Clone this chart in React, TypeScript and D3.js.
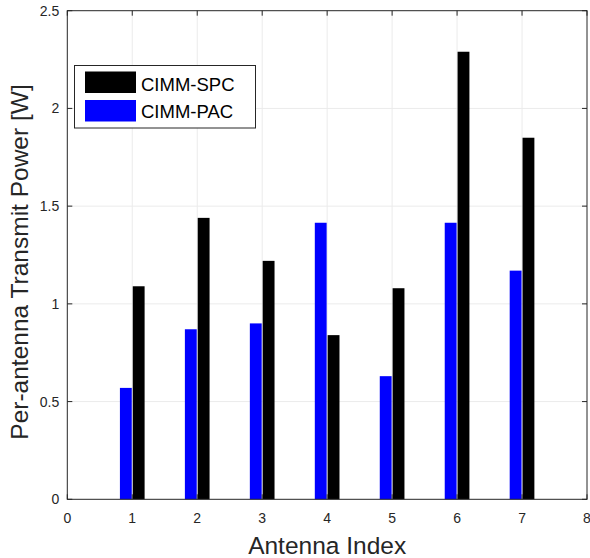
import React from "react";
import * as d3 from "d3";

const antennas = [1, 2, 3, 4, 5, 6, 7];
const spc = [1.09, 1.44, 1.22, 0.84, 1.08, 2.29, 1.85];
const pac = [0.57, 0.87, 0.9, 1.415, 0.63, 1.415, 1.17];
const xTicks = [0, 1, 2, 3, 4, 5, 6, 7, 8];
const yTicks = [0, 0.5, 1, 1.5, 2, 2.5];
const seriesNames = ["CIMM-SPC", "CIMM-PAC"];
const seriesColors = ["#000000", "#0000ff"];

const W = 590;
const H = 558;
const margin = { top: 10.7, right: 3, bottom: 58.7, left: 67.3 };
const font = "Arial, 'Liberation Sans', Helvetica, sans-serif";
const axisColor = "#262626";

export default function App() {
  const iw = W - margin.left - margin.right;
  const ih = H - margin.top - margin.bottom;
  const x = d3.scaleLinear().domain([0, 8]).range([0, iw]);
  const y = d3.scaleLinear().domain([0, 2.5]).range([ih, 0]);
  const bw = 0.19;

  return (
    <svg
      width={W}
      height={H}
      style={{ position: "absolute", left: 0, top: 0, background: "#fff" }}
    >
      <g transform={`translate(${margin.left},${margin.top})`}>
        {/* grid */}
        {xTicks.slice(1, -1).map((t) => (
          <line key={"gx" + t} x1={x(t)} x2={x(t)} y1={0} y2={ih} stroke="#ebebeb" strokeWidth={1} />
        ))}
        {yTicks.slice(1, -1).map((t) => (
          <line key={"gy" + t} x1={0} x2={iw} y1={y(t)} y2={y(t)} stroke="#ebebeb" strokeWidth={1} />
        ))}

        {/* bars */}
        {antennas.map((a, i) => (
          <g key={"b" + a}>
            <rect x={x(a - bw)} y={y(pac[i])} width={x(a) - x(a - bw) - 0.5} height={ih - y(pac[i])} fill={seriesColors[1]} />
            <rect x={x(a) + 0.5} y={y(spc[i])} width={x(a + bw) - x(a) - 0.5} height={ih - y(spc[i])} fill={seriesColors[0]} />
          </g>
        ))}

        {/* box */}
        <rect x={0} y={0} width={iw} height={ih} fill="none" stroke={axisColor} strokeWidth={1} />

        {/* ticks */}
        {xTicks.map((t) => (
          <g key={"tx" + t}>
            <line x1={x(t)} x2={x(t)} y1={ih} y2={ih - 5} stroke={axisColor} />
            <line x1={x(t)} x2={x(t)} y1={0} y2={5} stroke={axisColor} />
            <text x={x(t)} y={ih + 24} textAnchor="middle" fontSize={14} fill={axisColor} fontFamily={font}>
              {t}
            </text>
          </g>
        ))}
        {yTicks.map((t) => (
          <g key={"ty" + t}>
            <line x1={0} x2={5} y1={y(t)} y2={y(t)} stroke={axisColor} />
            <line x1={iw} x2={iw - 5} y1={y(t)} y2={y(t)} stroke={axisColor} />
            <text x={-8} y={y(t) + 5} textAnchor="end" fontSize={14} fill={axisColor} fontFamily={font}>
              {t}
            </text>
          </g>
        ))}

        {/* axis labels */}
        <text x={iw / 2 + 0} y={ih + 55} textAnchor="middle" fontSize={24.5} fill={axisColor} fontFamily={font}>
          Antenna Index
        </text>
        <text
          transform={`translate(${-39},${ih / 2 + 7}) rotate(-90)`}
          textAnchor="middle"
          fontSize={24.5}
          fill={axisColor}
          fontFamily={font}
        >
          Per-antenna Transmit Power [W]
        </text>
      </g>

      {/* legend */}
      <g>
        <rect x={74.5} y={65.5} width={181} height={62.5} fill="#fff" stroke={axisColor} strokeWidth={1} />
        {seriesNames.map((n, i) => (
          <g key={n}>
            <rect x={85} y={71.5 + i * 28.5} width={51} height={21.5} fill={seriesColors[i]} />
            <text x={141} y={90.5 + i * 27.8} fontSize={18.5} fill="#000" fontFamily={font}>
              {n}
            </text>
          </g>
        ))}
      </g>
    </svg>
  );
}
